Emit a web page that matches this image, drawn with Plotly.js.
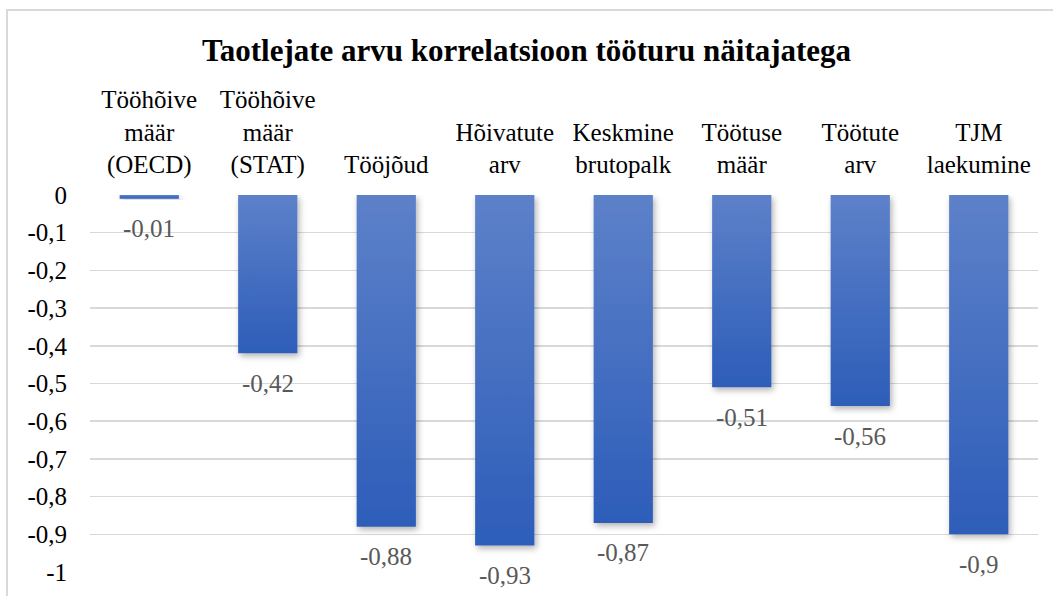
<!DOCTYPE html>
<html>
<head>
<meta charset="utf-8">
<script src="https://cdn.plot.ly/plotly-3.0.1.min.js"></script>
<style>
html,body{margin:0;padding:0;background:#fff;}
#chart{width:1053px;height:596px;}
</style>
</head>
<body>
<div id="chart"></div>
<script>
var categories = [
  "Tööhõive<br>määr<br>(OECD)",
  "Tööhõive<br>määr<br>(STAT)",
  "Tööjõud",
  "Hõivatute<br>arv",
  "Keskmine<br>brutopalk",
  "Töötuse<br>määr",
  "Töötute<br>arv",
  "TJM<br>laekumine"
];
var values = [-0.01, -0.42, -0.88, -0.93, -0.87, -0.51, -0.56, -0.9];
var valueLabels = ["-0,01", "-0,42", "-0,88", "-0,93", "-0,87", "-0,51", "-0,56", "-0,9"];
var yTickVals = [0, -0.1, -0.2, -0.3, -0.4, -0.5, -0.6, -0.7, -0.8, -0.9, -1];
var yTickText = ["0", "-0,1", "-0,2", "-0,3", "-0,4", "-0,5", "-0,6", "-0,7", "-0,8", "-0,9", "-1"];
var titleText = "Taotlejate arvu korrelatsioon tööturu näitajatega";

var fam = "Liberation Serif, Times New Roman, serif";

var trace = {
  type: "bar",
  x: categories,
  y: values,
  marker: {color: "#4472C4", line: {width: 0}},
  width: 0.5,
  hoverinfo: "none"
};

var annotations = categories.map(function(c, i){
  return {
    x: c, y: values[i], xref: "x", yref: "y",
    text: valueLabels[i], showarrow: false,
    yanchor: "middle", yshift: -30,
    font: {family: fam, size: 25, color: "#595959"}
  };
});

var layout = {
  width: 1053, height: 596,
  paper_bgcolor: "#ffffff", plot_bgcolor: "#ffffff",
  margin: {l: 90, r: 15, t: 195, b: 24},
  showlegend: false,
  font: {family: fam},
  title: {
    text: "<b>" + titleText + "</b>",
    font: {family: fam, size: 31, color: "#000000"},
    x: 0.5, xanchor: "center",
    y: 1 - 50/596, yref: "container", yanchor: "middle"
  },
  xaxis: {
    side: "top",
    type: "category",
    showgrid: false, zeroline: false, showline: false,
    ticks: "", ticklabelstandoff: 16,
    tickfont: {family: fam, size: 25, color: "#000000"}
  },
  yaxis: {
    range: [-1, 0],
    tickvals: yTickVals, ticktext: yTickText,
    showgrid: true, gridcolor: "#d9d9d9", gridwidth: 1.5,
    zeroline: false, showline: false, ticks: "",
    ticklabelstandoff: 22,
    tickfont: {family: fam, size: 25, color: "#000000"}
  },
  annotations: annotations,
  shapes: [{
    type: "rect", xref: "paper", yref: "paper",
    x0: -83/948, x1: 1.2, y0: -0.3, y1: 1 + (195 - 10)/377,
    line: {color: "#d9d9d9", width: 2}, fillcolor: "rgba(0,0,0,0)", layer: "below"
  }]
};

Plotly.newPlot("chart", [trace], layout, {staticPlot: true}).then(function(gd){
  var svg = gd.querySelector("svg.main-svg");
  var ns = "http://www.w3.org/2000/svg";
  var defs = svg.querySelector("defs") || svg.insertBefore(document.createElementNS(ns, "defs"), svg.firstChild);
  var lg = document.createElementNS(ns, "linearGradient");
  lg.setAttribute("id", "barGrad");
  lg.setAttribute("x1", "0"); lg.setAttribute("y1", "0");
  lg.setAttribute("x2", "0"); lg.setAttribute("y2", "1");
  [["0", "#5D81C9"], ["1", "#2D5DB9"]].forEach(function(s){
    var st = document.createElementNS(ns, "stop");
    st.setAttribute("offset", s[0]);
    st.setAttribute("stop-color", s[1]);
    lg.appendChild(st);
  });
  defs.appendChild(lg);
  var f = document.createElementNS(ns, "filter");
  f.setAttribute("id", "barShadow");
  f.setAttribute("x", "-20%"); f.setAttribute("y", "-5%");
  f.setAttribute("width", "150%"); f.setAttribute("height", "120%");
  var ds = document.createElementNS(ns, "feDropShadow");
  ds.setAttribute("dx", "2"); ds.setAttribute("dy", "3");
  ds.setAttribute("stdDeviation", "3");
  ds.setAttribute("flood-color", "#000");
  ds.setAttribute("flood-opacity", "0.3");
  f.appendChild(ds);
  defs.appendChild(f);
  gd.querySelectorAll("g.trace.bars g.point path").forEach(function(p){
    p.style.fill = "url(#barGrad)";
    p.setAttribute("filter", "url(#barShadow)");
  });
});
</script>
</body>
</html>
